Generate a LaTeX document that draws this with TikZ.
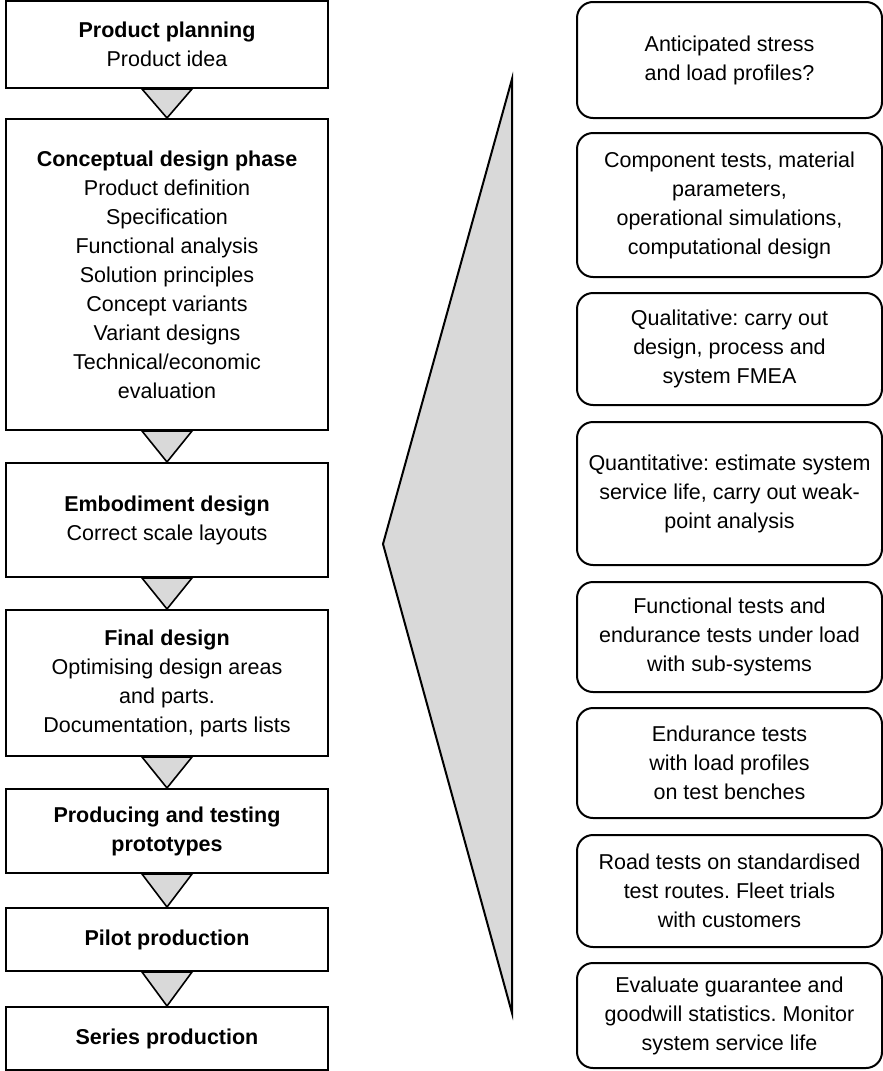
\documentclass[tikz,border=0pt]{standalone}
\usepackage{fontspec}
\setmainfont{Liberation Sans}
\usetikzlibrary{calc}
\definecolor{tri-gray}{HTML}{D9D9D9}
\frenchspacing

\begin{document}
\begin{tikzpicture}[x=1pt, y=-1pt,
    phase/.style={draw, line width=2pt, fill=white, minimum width=322pt,
                  align=center, font=\fontsize{21.5}{29}\selectfont},
    testbox/.style={draw, line width=2pt, rounded corners=16pt, fill=white,
                    minimum width=305pt, align=center,
                    font=\fontsize{21.5}{29}\selectfont},
    tri/.style={draw, line width=1.6pt, fill=tri-gray},
  ]
    \useasboundingbox (0,0) rectangle (883,1071);

    % Development phases
    \node[phase, minimum height=87pt]  (plan)    at (167,44.5)
          {\textbf{Product planning}\\Product idea};
    \node[phase, minimum height=311pt] (concept) at (167,274.5)
          {\textbf{Conceptual design phase}\\Product definition\\Specification\\
           Functional analysis\\Solution principles\\Concept variants\\
           Variant designs\\Technical/economic\\evaluation};
    \node[phase, minimum height=114pt] (embod)   at (167,520)
          {\textbf{Embodiment design}\\Correct scale layouts};
    \node[phase, minimum height=146pt] (final)   at (167,683)
          {\textbf{Final design}\\Optimising design areas\\and parts.\\
           Documentation, parts lists};
    \node[phase, minimum height=84pt]  (proto)   at (167,831)
          {\textbf{Producing and testing}\\\textbf{prototypes}};
    \node[phase, minimum height=63pt]  (pilot)   at (167,939.5)
          {\textbf{Pilot production}};
    \node[phase, minimum height=63pt]  (series)  at (167,1038.5)
          {\textbf{Series production}};

    % Triangles between phases
    \foreach \a/\b in {plan/concept, concept/embod, embod/final,
                       final/proto, proto/pilot, pilot/series}
      \draw[tri] ($(\a.south)+(-25,0)$) -- ($(\a.south)+(25,0)$)
                 -- (\b.north) -- cycle;

    % Wedge
    \draw[tri, line width=2pt] (512,79) -- (383,544) -- (512,1013) -- cycle;

    % Testing activities
    \node[testbox, minimum height=116pt] (stress) at (729.5,60)
          {Anticipated stress\\and load profiles?};
    \node[testbox, minimum height=144pt] (comp)   at (729.5,205)
          {Component tests, material\\parameters,\\operational simulations,\\
           computational design};
    \node[testbox, minimum height=112pt] (quali)  at (729.5,349)
          {Qualitative: carry out\\design, process and\\system FMEA};
    \node[testbox, minimum height=143pt] (quanti) at (729.5,493.5)
          {Quantitative: estimate system\\service life, carry out weak-\\
           point analysis};
    \node[testbox, minimum height=110pt] (func)   at (729.5,637)
          {Functional tests and\\endurance tests under load\\with sub-systems};
    \node[testbox, minimum height=110pt] (endur)  at (729.5,763)
          {Endurance tests\\with load profiles\\on test benches};
    \node[testbox, minimum height=112pt] (road)   at (729.5,891)
          {Road tests on standardised\\test routes. Fleet trials\\with customers};
    \node[testbox, minimum height=105pt] (guar)   at (729.5,1015.5)
          {Evaluate guarantee and\\goodwill statistics. Monitor\\
           system service life};
  \end{tikzpicture}
\end{document}
